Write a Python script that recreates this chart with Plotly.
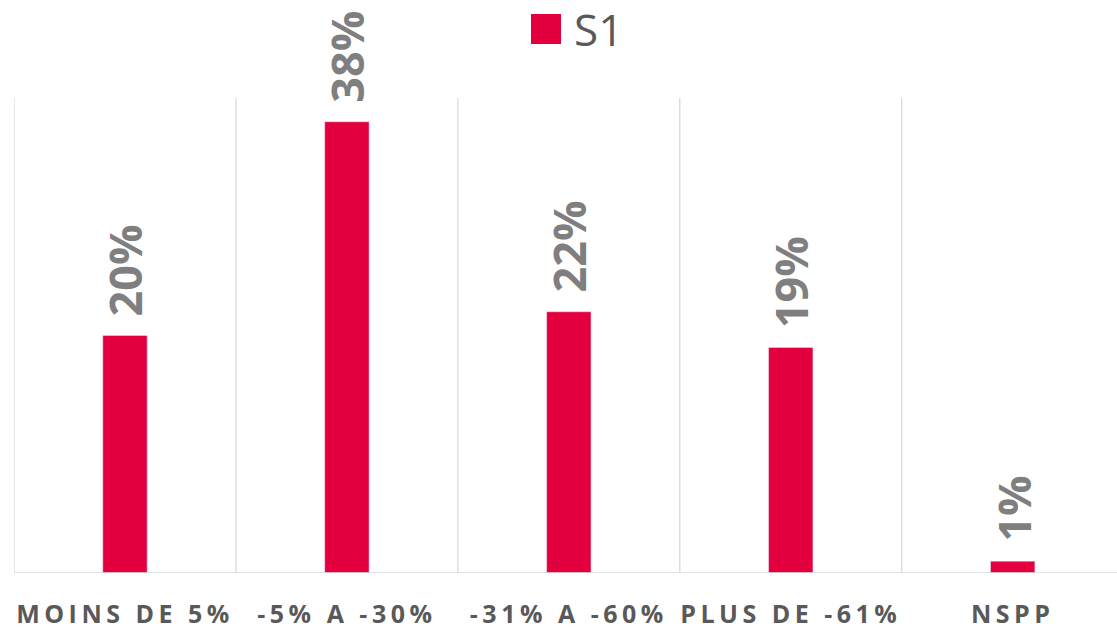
import plotly.graph_objects as go

categories = ["MOINS DE 5%", "-5% A -30%", "-31% A -60%", "PLUS DE -61%", "NSPP"]
values = [20, 38, 22, 19, 1]
labels = ["20%", "38%", "22%", "19%", "1%"]
series_name = "S1"

BAR = "#E4003F"
GRID = "#D9D9D9"
FONT = "Open Sans"

x = list(range(len(categories)))

fig = go.Figure()
fig.add_trace(go.Bar(
    x=x, y=values, width=0.2, marker_color=BAR, name=series_name,
    showlegend=False, hoverinfo="x+y",
))

annotations = []
for xi, v, lab in zip(x, values, labels):
    annotations.append(dict(
        x=xi, y=v, xref="x", yref="y", text=lab, showarrow=False, textangle=-90,
        xanchor="center", yanchor="bottom", yshift=17,
        font=dict(family=FONT, size=45, color="#7F7F7F", weight="bold"),
    ))
annotations.append(dict(
    xref="paper", yref="paper", x=(572 - 14) / 1103, y=(573 - 29) / 475,
    xanchor="left", yanchor="middle", text=series_name, showarrow=False,
    font=dict(family=FONT, size=44, color="#595959"),
))

shapes = []
for i in range(len(categories) + 1):
    shapes.append(dict(type="line", xref="x", yref="paper", x0=i - 0.5, x1=i - 0.5,
                       y0=0, y1=1, line=dict(color=GRID, width=1.3), layer="below"))
shapes.append(dict(type="line", xref="paper", yref="y", x0=0, x1=1, y0=0, y1=0,
                   line=dict(color=GRID, width=1.5)))
# legend swatch
shapes.append(dict(type="rect", xref="paper", yref="paper",
                   x0=(531 - 14) / 1103, x1=(561 - 14) / 1103,
                   y0=(573 - 44) / 475, y1=(573 - 14) / 475,
                   fillcolor=BAR, line=dict(width=0)))

ticktext = ['<span style="letter-spacing:4.5px">%s</span>' % c for c in categories]

fig.update_layout(
    width=1117, height=629,
    margin=dict(l=14, r=0, t=98, b=56, autoexpand=False),
    paper_bgcolor="white", plot_bgcolor="white",
    shapes=shapes,
    annotations=annotations,
    xaxis=dict(range=[-0.5, 4.47], tickvals=x, ticktext=ticktext, showgrid=False,
               zeroline=False, showline=False, ticks="", automargin=False,
               ticklabelstandoff=24,
               tickfont=dict(family=FONT, size=25, color="#595959", weight="bold")),
    yaxis=dict(range=[0, 40], showgrid=False, zeroline=False, showticklabels=False,
               showline=False, automargin=False),
    bargap=0.8,
)

fig.write_html("out.html", config={"displayModeBar": False},
               post_script="document.body.style.margin='0';")
